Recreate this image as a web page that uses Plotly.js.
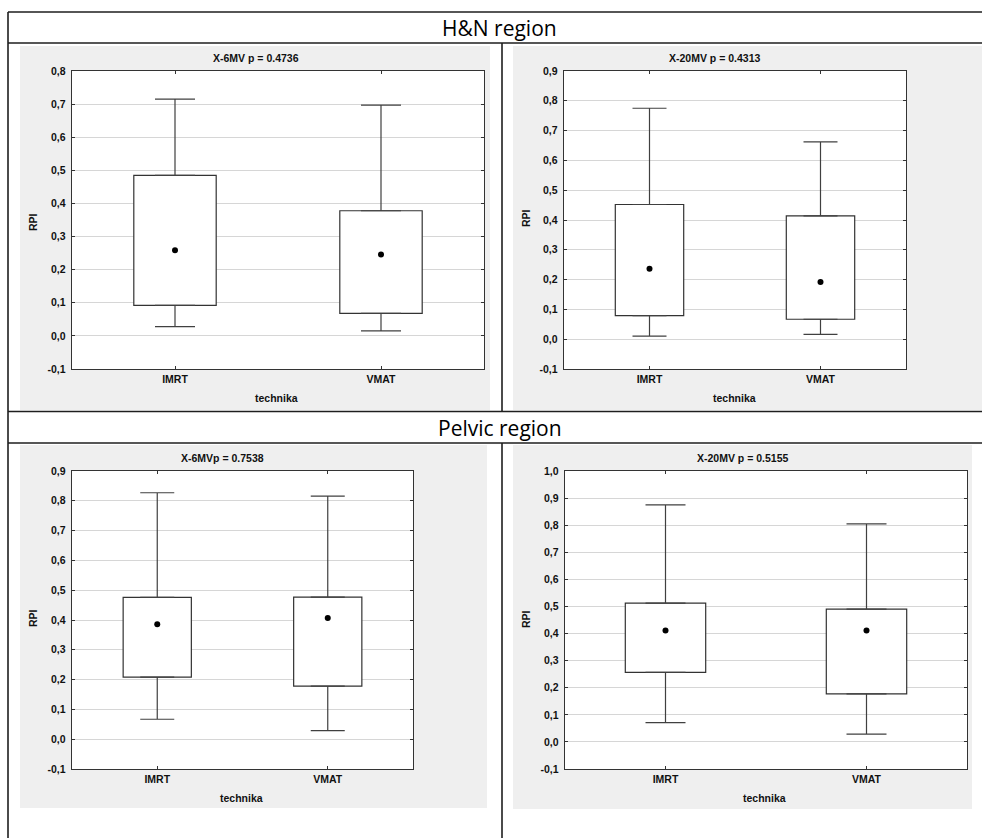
<!DOCTYPE html>
<html>
<head>
<meta charset="utf-8">
<script src="https://cdn.plot.ly/plotly-3.0.1.min.js"></script>
<style>html,body{margin:0;padding:0;background:#fff;}#chart{width:982px;height:838px;}</style>
</head>
<body>
<div id="chart"></div>
<script>
// ---------- DATA ----------
const categories = ['IMRT', 'VMAT'];

// H&N region, X-6MV
const hn6Min = [0.028, 0.015];
const hn6Q1 = [0.092, 0.068];
const hn6Median = [0.259, 0.246];
const hn6Q3 = [0.485, 0.378];
const hn6Max = [0.715, 0.697];

// H&N region, X-20MV
const hn20Min = [0.010, 0.016];
const hn20Q1 = [0.079, 0.067];
const hn20Median = [0.236, 0.192];
const hn20Q3 = [0.452, 0.414];
const hn20Max = [0.775, 0.662];

// Pelvic region, X-6MV
const pel6Min = [0.067, 0.029];
const pel6Q1 = [0.208, 0.178];
const pel6Median = [0.386, 0.407];
const pel6Q3 = [0.476, 0.477];
const pel6Max = [0.827, 0.816];

// Pelvic region, X-20MV
const pel20Min = [0.071, 0.029];
const pel20Q1 = [0.257, 0.177];
const pel20Median = [0.411, 0.411];
const pel20Q3 = [0.512, 0.490];
const pel20Max = [0.875, 0.805];

const panelTitles = ['X-6MV p = 0.4736', 'X-20MV p = 0.4313', 'X-6MVp = 0.7538', 'X-20MV p = 0.5155'];
const regionTitles = ['H&N region', 'Pelvic region'];
const yAxisTitle = 'RPI';
const xAxisTitle = 'technika';

// y tick values / labels per panel
const yTicksA = [-0.1, 0.0, 0.1, 0.2, 0.3, 0.4, 0.5, 0.6, 0.7, 0.8];
const yTicksB = [-0.1, 0.0, 0.1, 0.2, 0.3, 0.4, 0.5, 0.6, 0.7, 0.8, 0.9];
const yTicksC = [-0.1, 0.0, 0.1, 0.2, 0.3, 0.4, 0.5, 0.6, 0.7, 0.8, 0.9, 1.0];
const yTickLabelsA = ['-0,1', '0,0', '0,1', '0,2', '0,3', '0,4', '0,5', '0,6', '0,7', '0,8'];
const yTickLabelsB = ['-0,1', '0,0', '0,1', '0,2', '0,3', '0,4', '0,5', '0,6', '0,7', '0,8', '0,9'];
const yTickLabelsC = ['-0,1', '0,0', '0,1', '0,2', '0,3', '0,4', '0,5', '0,6', '0,7', '0,8', '0,9', '1,0'];

// ---------- LAYOUT HELPERS ----------
const W = 982, H = 838;
const px = x => x / W;
const py = y => 1 - y / H;

const panels = [
  {min: hn6Min, q1: hn6Q1, med: hn6Median, q3: hn6Q3, max: hn6Max, ticks: yTicksA, labels: yTickLabelsA, capW: 20},
  {min: hn20Min, q1: hn20Q1, med: hn20Median, q3: hn20Q3, max: hn20Max, ticks: yTicksB, labels: yTickLabelsB, capW: 17},
  {min: pel6Min, q1: pel6Q1, med: pel6Median, q3: pel6Q3, max: pel6Max, ticks: yTicksB, labels: yTickLabelsB, capW: 17},
  {min: pel20Min, q1: pel20Q1, med: pel20Median, q3: pel20Q3, max: pel20Max, ticks: yTicksC, labels: yTickLabelsC, capW: 20}
];

// plot areas in pixels [x0, x1, y0(top), y1(bottom)]
const areas = [
  [72, 484, 71, 369],
  [564, 906, 71, 369],
  [72, 413, 471, 769],
  [565, 967, 471, 769]
];
const greys = [
  [20, 490, 46, 410],
  [513, 982, 46, 410],
  [20, 487, 445, 808],
  [513, 972, 445, 809]
];
const titlePos = [[256, 58], [715, 58], [222, 458], [743, 458]];
const rpiPos = [[33, 222], [526, 218], [33, 618], [526, 619]];
const techPos = [[276, 398], [734, 398], [241, 798], [764, 798]];

const boxLine = '#333333';
const tickFont = {family: 'Liberation Sans, Arial, sans-serif', size: 10.5, color: '#111111', weight: 700};

const traces = [];
const layout = {
  width: W, height: H,
  margin: {l: 0, r: 0, t: 0, b: 0},
  paper_bgcolor: '#ffffff',
  plot_bgcolor: '#ffffff',
  showlegend: false,
  barmode: 'overlay',
  shapes: [],
  annotations: []
};

panels.forEach((p, i) => {
  const n = i === 0 ? '' : String(i + 1);
  const xa = 'x' + n, ya = 'y' + n;
  const a = areas[i];

  // box: 25%-75%
  traces.push({
    type: 'bar', x: categories,
    base: p.q1,
    y: p.q3.map((v, k) => v - p.q1[k]),
    width: 0.4,
    marker: {color: '#ffffff', line: {color: boxLine, width: 1.2}},
    xaxis: xa, yaxis: ya, hoverinfo: 'skip'
  });
  // upper whisker
  traces.push({
    type: 'scatter', mode: 'markers', x: categories, y: p.q3,
    marker: {color: 'rgba(0,0,0,0)', size: 1},
    error_y: {type: 'data', symmetric: false, array: p.max.map((v, k) => v - p.q3[k]),
              arrayminus: p.q3.map(() => 0), width: p.capW, thickness: 1.2, color: '#404040'},
    xaxis: xa, yaxis: ya, hoverinfo: 'skip'
  });
  // lower whisker
  traces.push({
    type: 'scatter', mode: 'markers', x: categories, y: p.q1,
    marker: {color: 'rgba(0,0,0,0)', size: 1},
    error_y: {type: 'data', symmetric: false, array: p.q1.map(() => 0),
              arrayminus: p.q1.map((v, k) => v - p.min[k]), width: p.capW, thickness: 1.2, color: '#404040'},
    xaxis: xa, yaxis: ya, hoverinfo: 'skip'
  });
  // median point
  traces.push({
    type: 'scatter', mode: 'markers', x: categories, y: p.med,
    marker: {color: '#000000', size: 6, symbol: 'circle'},
    xaxis: xa, yaxis: ya
  });

  const xKey = 'xaxis' + n, yKey = 'yaxis' + n;
  layout[xKey] = {
    domain: [px(a[0]), px(a[1])],
    anchor: ya,
    type: 'category',
    range: [-0.5, 1.5],
    showgrid: false,
    showline: true, linecolor: '#333333', linewidth: 1.3, mirror: 'ticks',
    ticks: 'inside', ticklen: 3, tickcolor: '#333333', tickwidth: 1,
    tickfont: tickFont,
    fixedrange: true
  };
  layout[yKey] = {
    domain: [py(a[3]), py(a[2])],
    anchor: xa,
    range: [p.ticks[0], p.ticks[p.ticks.length - 1]],
    tickmode: 'array',
    tickvals: p.ticks,
    ticktext: p.labels,
    showgrid: true, gridcolor: '#d6d6d6', gridwidth: 1,
    zeroline: false,
    showline: true, linecolor: '#333333', linewidth: 1.3, mirror: 'ticks',
    ticks: 'inside', ticklen: 3, tickcolor: '#333333', tickwidth: 1,
    tickfont: tickFont,
    ticklabelstandoff: 3,
    fixedrange: true
  };

  const g = greys[i];
  layout.shapes.push({type: 'rect', xref: 'paper', yref: 'paper', layer: 'below',
    x0: px(g[0]), x1: px(g[1]), y0: py(g[3]), y1: py(g[2]),
    fillcolor: '#efefef', line: {width: 0}});
  layout.shapes.push({type: 'rect', xref: 'paper', yref: 'paper', layer: 'below',
    x0: px(a[0]), x1: px(a[1]), y0: py(a[3]), y1: py(a[2]),
    fillcolor: '#ffffff', line: {width: 0}});

  layout.annotations.push({text: panelTitles[i], xref: 'paper', yref: 'paper',
    x: px(titlePos[i][0]), y: py(titlePos[i][1]), xanchor: 'center', yanchor: 'middle',
    showarrow: false, font: tickFont});
  layout.annotations.push({text: yAxisTitle, xref: 'paper', yref: 'paper', textangle: -90,
    x: px(rpiPos[i][0]), y: py(rpiPos[i][1]), xanchor: 'center', yanchor: 'middle',
    showarrow: false, font: tickFont});
  layout.annotations.push({text: xAxisTitle, xref: 'paper', yref: 'paper',
    x: px(techPos[i][0]), y: py(techPos[i][1]), xanchor: 'center', yanchor: 'middle',
    showarrow: false, font: tickFont});
});

// frame lines
const lc = {color: '#1e1e1e', width: 1.6};
[[8, 982, 12, 12], [8, 982, 43, 43], [8, 982, 411.5, 411.5], [8, 982, 443, 443],
 [8, 8, 12, 838], [502, 502, 43, 411.5], [502, 502, 443, 838]].forEach(l => {
  layout.shapes.push({type: 'line', xref: 'paper', yref: 'paper', layer: 'above',
    x0: px(l[0]), x1: px(l[1]), y0: py(l[2]), y1: py(l[3]), line: lc});
});

const headFont = {family: 'Open Sans, Noto Sans, sans-serif', size: 21, color: '#000000', weight: 500};
layout.annotations.push({text: regionTitles[0], xref: 'paper', yref: 'paper',
  x: px(499), y: py(28), xanchor: 'center', yanchor: 'middle', showarrow: false, font: headFont});
layout.annotations.push({text: regionTitles[1], xref: 'paper', yref: 'paper',
  x: px(500), y: py(428), xanchor: 'center', yanchor: 'middle', showarrow: false, font: headFont});

Plotly.newPlot('chart', traces, layout, {displayModeBar: false, staticPlot: true});
</script>
</body>
</html>
